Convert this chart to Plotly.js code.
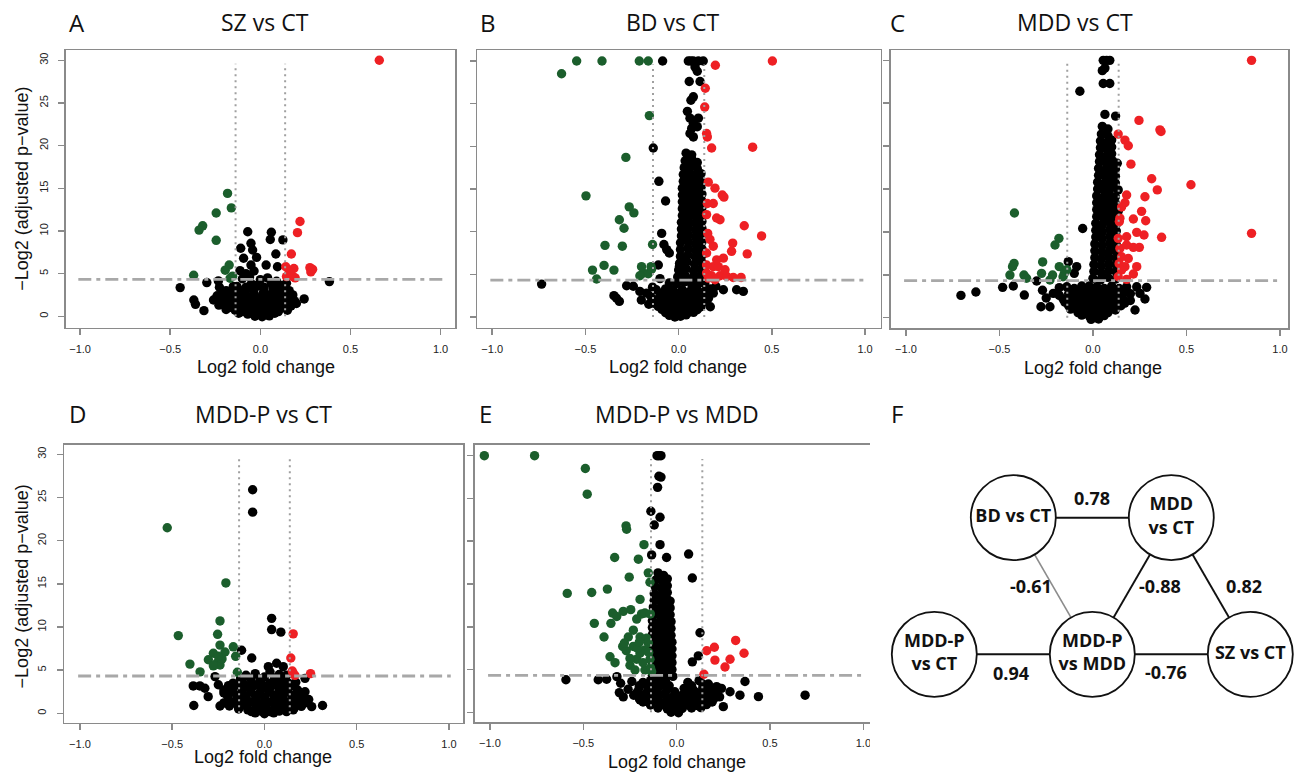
<!DOCTYPE html>
<html><head><meta charset="utf-8">
<script src="https://cdn.plot.ly/plotly-3.0.1.min.js"></script>
<style>html,body{margin:0;padding:0;background:#fff}#chart{width:1296px;height:773px}</style>
</head><body><div id="chart"></div>
<script>
// ---------------- DATA (log2 fold change, -log2 adjusted p-value) ----------------
const panelTitles = ['SZ vs CT', 'BD vs CT', 'MDD vs CT', 'MDD-P vs CT', 'MDD-P vs MDD'];
const panelLetters = ['A', 'B', 'C', 'D', 'E', 'F'];
const xTickVals = [-1, -0.5, 0, 0.5, 1];
const xTickText = ['\u22121.0', '\u22120.5', '0.0', '0.5', '1.0'];
const yTickVals = [0, 5, 10, 15, 20, 25, 30];
const pThreshold = 4.32;     // -log2(0.05)
const fcThreshold = 0.1375;  // log2(1.1)

// Panel A: SZ vs CT
const A_red = [[0.66,30],[0.22,11.1],[0.206,9.8],[0.172,7.3],[0.141,5.8],[0.186,5.6],[0.145,4.65],[0.18,4.65],[0.193,4.5],[0.275,5.7],[0.29,5.5],[0.28,5.2],[0.16,5.2]];
const A_green = [[-0.182,14.4],[-0.161,12.7],[-0.245,12.1],[-0.32,10.6],[-0.34,10.1],[-0.245,8.9],[-0.173,6.0],[-0.195,5.4],[-0.154,4.7],[-0.168,4.45],[-0.37,4.8]];
const A_black = [[-0.07,9.9],[-0.052,8.55],[-0.109,7.97],[-0.043,7.77],[-0.021,6.9],[-0.093,6.8],[-0.052,6.0],[-0.113,5.35],[0.061,9.84],[0.055,9.0],[0.125,8.95],[0.086,7.3],[0.032,6.0],[0.095,5.8],[0.145,3.87],[0.383,4.06],[-0.445,3.36],[-0.369,1.9],[-0.36,1.4],[-0.313,0.66],[-0.297,3.95],[-0.233,4.14],[-0.227,3.4],[-0.243,2.07],[0.243,2.03],
 [-0.08,5.0],[-0.06,4.6],[-0.1,4.4],[-0.035,5.3],[0.0,4.3],[0.04,4.5],[0.09,4.1],[0.12,3.6],[-0.15,3.5],[-0.19,3.0],[-0.12,3.1],[-0.05,3.8],[0.06,3.9],[-0.02,3.5],
 [-0.21,2.9],[-0.16,3.0],[-0.09,2.8],[-0.04,3.1],[0.02,2.9],[0.07,3.2],[0.11,2.8],[0.16,3.0],
 [-0.24,2.4],[-0.19,2.5],[-0.13,2.3],[-0.08,2.5],[-0.03,2.3],[0.03,2.5],[0.08,2.3],[0.13,2.4],[0.18,2.5],
 [-0.26,1.9],[-0.21,1.8],[-0.16,2.0],[-0.11,1.8],[-0.06,2.0],[-0.01,1.8],[0.04,2.0],[0.09,1.8],[0.14,2.0],[0.19,1.8],
 [-0.23,1.3],[-0.18,1.4],[-0.13,1.2],[-0.08,1.4],[-0.03,1.2],[0.02,1.4],[0.07,1.2],[0.12,1.4],[0.17,1.2],
 [-0.19,0.8],[-0.14,0.7],[-0.09,0.9],[-0.04,0.7],[0.01,0.9],[0.06,0.7],[0.11,0.9],[0.15,0.7],
 [-0.12,0.35],[-0.07,0.25],[-0.02,0.4],[0.03,0.2],[0.08,0.35],[-0.03,0.0],[0.01,-0.05],[0.05,0.05],
 [-0.235,2.15],[-0.185,2.2],[-0.135,2.15],[-0.085,2.2],[-0.035,2.15],[0.015,2.2],[0.065,2.15],[0.115,2.2],[0.165,2.15],
 [-0.205,1.6],[-0.155,1.65],[-0.105,1.6],[-0.055,1.65],[-0.005,1.6],[0.045,1.65],[0.095,1.6],[0.145,1.65],[0.2,1.5],
 [-0.165,1.05],[-0.115,1.0],[-0.065,1.05],[-0.015,1.0],[0.035,1.05],[0.085,1.0],[0.135,1.05],
 [-0.1,0.55],[-0.05,0.5],[0.0,0.55],[0.05,0.5],[0.1,0.55],
 [-0.185,2.7],[-0.135,2.65],[-0.085,2.7],[-0.035,2.65],[0.015,2.7],[0.065,2.65],[0.115,2.7],[0.14,3.3],
 [-0.13,3.5],[-0.08,3.4],[-0.03,3.6],[0.02,3.4],[0.07,3.6],[0.1,3.4]];

// Panel B: BD vs CT
const B_red = [[0.503,30],[0.197,29.5],[0.143,26.8],[0.14,24.6],[0.15,21.5],[0.154,21.1],[0.177,19.8],[0.397,19.9],[0.159,15.8],[0.195,15.1],[0.234,14.3],[0.243,14.05],[0.154,13.3],[0.186,13.3],[0.15,12.0],[0.204,11.6],[0.222,11.4],[0.352,10.7],[0.445,9.5],[0.156,9.8],[0.168,9.1],[0.186,8.3],[0.29,8.66],[0.284,7.7],[0.24,6.9],[0.368,7.4],[0.15,7.5],[0.15,6.1],[0.186,5.9],[0.213,5.9],[0.15,5.15],[0.177,4.84],[0.222,4.84],[0.258,4.76],[0.293,4.64],[0.335,4.64],[0.195,4.37],[0.159,4.56],[0.249,5.54],[0.204,6.7]];
const B_green = [[-0.547,30],[-0.411,30],[-0.211,30],[-0.163,30],[-0.628,28.5],[-0.157,23.6],[-0.283,18.7],[-0.497,14.2],[-0.265,12.9],[-0.24,12.2],[-0.318,11.4],[-0.293,10.4],[-0.395,8.4],[-0.302,8.3],[-0.14,8.5],[-0.462,5.5],[-0.4,6.05],[-0.347,5.5],[-0.44,4.45],[-0.199,5.9],[-0.148,5.9],[-0.19,5.15],[-0.163,5.07],[-0.208,4.84],[-0.145,5.6]];
const B_black = [[-0.086,30],[0.052,30],[0.065,30],[0.079,30],[0.106,30],[0.132,30],[0.088,29.3],[0.1,28.8],[0.057,27.6],[0.115,27.6],[0.079,25.8],[0.066,25.4],[0.047,24.1],[0.061,23.3],[0.106,23.3],[0.079,22.7],[0.1,22.3],[0.061,21.5],[0.079,21.1],[0.07,22.1],[-0.136,19.8],
 [0.04,19.2],[0.07,19.0],[0.035,18.3],[0.07,18.5],[0.1,18.1],[0.03,17.5],[0.065,17.7],[0.1,17.4],
 [0.025,16.7],[0.06,16.9],[0.095,16.6],[0.12,16.8],[0.025,15.9],[0.06,16.1],[0.095,15.8],[0.12,16.0],
 [0.02,15.1],[0.055,15.3],[0.09,15.0],[0.12,15.2],[0.02,14.3],[0.055,14.5],[0.09,14.2],[0.125,14.4],
 [0.02,13.5],[0.055,13.7],[0.09,13.4],[0.125,13.6],[0.02,12.7],[0.055,12.9],[0.09,12.6],[0.125,12.8],
 [0.02,11.9],[0.055,12.1],[0.09,11.8],[0.125,12.0],[0.015,11.1],[0.05,11.3],[0.09,11.0],[0.125,11.2],
 [0.015,10.3],[0.05,10.5],[0.09,10.2],[0.125,10.4],[0.015,9.5],[0.05,9.7],[0.09,9.4],[0.125,9.6],
 [0.01,8.7],[0.05,8.9],[0.09,8.6],[0.125,8.8],[0.01,7.9],[0.05,8.1],[0.09,7.8],[0.125,8.0],
 [0.01,7.1],[0.05,7.3],[0.09,7.0],[0.125,7.2],[0.005,6.3],[0.045,6.5],[0.085,6.2],[0.125,6.4],
 [0.0,5.5],[0.04,5.7],[0.08,5.4],[0.12,5.6],[-0.005,4.7],[0.035,4.9],[0.075,4.6],[0.115,4.8],
 [-0.01,3.9],[0.03,4.1],[0.07,3.8],[0.11,4.0],[0.14,3.9],
 [-0.735,3.86],[-0.347,2.5],[-0.318,1.83],[-0.333,2.2],[-0.279,3.67],[-0.243,3.6],[-0.208,3.0],[-0.172,2.8],[-0.106,15.9],[-0.07,13.6],[-0.091,9.8],[-0.079,8.5],[-0.064,7.9],[-0.05,7.5],[-0.109,6.1],[0.016,6.7],[0.004,5.9],[-0.14,3.5],[-0.1,4.5],[-0.05,4.0],[-0.16,1.5],[-0.2,2.0],
 [0.24,3.2],[0.311,3.2],[0.347,3.0],[0.186,2.8],[0.15,2.03],[0.2,3.6],[0.17,1.2],
 [-0.12,3.2],[-0.07,3.3],[-0.03,3.1],[0.02,3.2],[0.06,3.0],[0.1,3.2],[0.14,3.0],[0.17,3.3],
 [-0.15,2.4],[-0.1,2.5],[-0.06,2.3],[-0.02,2.5],[0.02,2.3],[0.06,2.5],[0.1,2.3],[0.14,2.5],
 [-0.13,1.6],[-0.09,1.7],[-0.05,1.5],[-0.01,1.7],[0.03,1.5],[0.07,1.7],[0.11,1.5],[0.13,1.7],
 [-0.09,0.9],[-0.05,0.8],[-0.01,1.0],[0.03,0.8],[0.07,1.0],[0.1,0.85],[-0.05,0.2],[-0.02,0.0],[0.01,0.1],[0.04,0.25],
 [-0.125,2.0],[-0.075,2.1],[-0.035,1.9],[0.005,2.1],[0.045,1.9],[0.085,2.1],[0.125,1.9],[0.16,2.2],
 [-0.11,1.25],[-0.07,1.3],[-0.03,1.2],[0.01,1.3],[0.05,1.2],[0.09,1.3],[0.12,1.2],
 [-0.07,0.5],[-0.03,0.5],[0.01,0.55],[0.05,0.5],[0.08,0.55],
 [-0.095,2.8],[-0.05,2.7],[-0.01,2.8],[0.04,2.7],[0.08,2.8],[0.12,2.7],[0.155,2.7]];

// Panel C: MDD vs CT
const C_red = [[0.848,30],[0.848,9.83],[0.524,15.5],[0.246,23.0],[0.358,21.9],[0.364,21.7],[0.135,21.4],[0.171,20.7],[0.189,20.05],[0.203,17.9],[0.314,16.2],[0.344,14.9],[0.18,14.3],[0.171,13.4],[0.278,14.1],[0.26,12.4],[0.153,12.9],[0.216,11.5],[0.282,11.3],[0.144,11.6],[0.141,11.2],[0.234,9.95],[0.273,9.64],[0.367,9.37],[0.135,9.25],[0.18,9.44],[0.216,8.2],[0.248,8.2],[0.144,8.08],[0.189,6.9],[0.153,7.1],[0.234,5.95],[0.171,5.95],[0.216,5.1],[0.135,4.78],[0.18,4.47],[0.153,5.56],[0.14,6.3],[0.18,8.47]];
const C_green = [[-0.42,12.2],[-0.182,9.25],[-0.203,8.47],[-0.422,6.33],[-0.43,5.95],[-0.444,4.97],[-0.369,4.97],[-0.355,4.6],[-0.269,6.5],[-0.275,5.17],[-0.216,4.97],[-0.23,4.4],[-0.18,5.95],[-0.153,5.17],[-0.14,5.6],[-0.16,4.78]];
const C_black = [[0.055,30],[0.073,30],[0.09,30],[0.05,28.8],[0.064,29.1],[0.055,27.3],[0.09,27.3],[-0.07,26.4],[0.064,23.7],[0.121,23.5],[-0.055,10.4],[0.135,14.9],[0.135,12.4],[0.13,18.0],
 [0.05,22.3],[0.08,22.0],[0.045,21.4],[0.08,21.2],[0.04,20.6],[0.075,20.4],[0.1,20.7],[0.04,19.8],[0.075,19.6],[0.1,19.9],
 [0.035,19.0],[0.07,18.8],[0.1,19.1],[0.035,18.2],[0.07,18.0],[0.105,18.3],
 [0.03,17.4],[0.065,17.2],[0.1,17.5],[0.12,17.3],[0.03,16.6],[0.065,16.4],[0.1,16.7],[0.12,16.5],
 [0.025,15.8],[0.06,15.6],[0.095,15.9],[0.12,15.7],[0.025,15.0],[0.06,14.8],[0.095,15.1],
 [0.02,14.2],[0.055,14.0],[0.09,14.3],[0.12,14.1],[0.02,13.4],[0.055,13.2],[0.09,13.5],[0.12,13.3],
 [0.02,12.6],[0.055,12.4],[0.09,12.7],[0.12,12.5],[0.02,11.8],[0.055,11.6],[0.09,11.9],[0.125,11.7],
 [0.015,11.0],[0.05,10.8],[0.09,11.1],[0.125,10.9],[0.015,10.2],[0.05,10.0],[0.09,10.3],[0.125,10.1],
 [0.015,9.4],[0.05,9.2],[0.09,9.5],[0.125,9.3],[0.01,8.6],[0.05,8.4],[0.09,8.7],[0.125,8.5],
 [0.01,7.8],[0.05,7.6],[0.09,7.9],[0.125,7.7],[0.01,7.0],[0.045,6.8],[0.085,7.1],[0.125,6.9],
 [0.005,6.2],[0.045,6.0],[0.085,6.3],[0.125,6.1],[0.005,5.4],[0.045,5.2],[0.085,5.5],[0.125,5.3],
 [0.0,4.6],[0.04,4.4],[0.08,4.7],[0.12,4.5],
 [-0.706,2.6],[-0.626,3.0],[-0.483,3.54],[-0.367,2.64],[-0.426,3.7],[-0.301,4.28],[-0.278,1.28],[-0.23,1.28],[-0.212,2.84],[-0.132,6.53],[-0.087,5.95],[-0.1,5.17],[-0.02,3.7],[-0.25,2.3],[-0.18,3.5],[-0.15,2.0],[-0.27,3.2],
 [0.287,3.54],[0.278,2.18],[0.225,0.9],[0.251,2.84],[0.234,3.6],[0.18,3.0],[0.2,2.0],
 [-0.14,3.6],[-0.1,3.4],[-0.06,3.7],[-0.02,3.3],[0.02,3.6],[0.06,3.4],[0.1,3.7],[0.14,3.4],[0.18,3.6],
 [-0.18,2.6],[-0.13,2.8],[-0.09,2.6],[-0.05,2.8],[-0.01,2.6],[0.03,2.8],[0.07,2.6],[0.11,2.8],[0.15,2.6],[0.2,2.8],
 [-0.15,1.8],[-0.11,1.9],[-0.07,1.7],[-0.03,1.9],[0.01,1.7],[0.05,1.9],[0.09,1.7],[0.13,1.9],[0.17,1.7],
 [-0.12,1.0],[-0.08,1.1],[-0.04,0.9],[0.0,1.1],[0.04,0.9],[0.08,1.1],[0.12,0.9],
 [-0.06,0.3],[-0.02,0.2],[0.02,0.35],[0.06,0.25],[-0.01,-0.2],[0.03,-0.15],
 [-0.16,2.2],[-0.12,2.3],[-0.08,2.2],[-0.04,2.3],[0.0,2.2],[0.04,2.3],[0.08,2.2],[0.12,2.3],[0.16,2.2],
 [-0.13,1.4],[-0.09,1.5],[-0.05,1.4],[-0.01,1.5],[0.03,1.4],[0.07,1.5],[0.11,1.4],[0.15,1.4],
 [-0.08,0.6],[-0.04,0.65],[0.0,0.6],[0.04,0.65],[0.08,0.6],
 [-0.12,3.1],[-0.08,3.0],[-0.04,3.1],[0.0,3.0],[0.04,3.1],[0.08,3.0],[0.12,3.1],[0.16,3.0]];

// Panel D: MDD-P vs CT
const D_red = [[0.156,9.2],[0.143,6.4],[0.151,4.9],[0.165,4.4],[0.25,4.6],[0.156,4.6]];
const D_green = [[-0.527,21.5],[-0.209,15.1],[-0.241,10.7],[-0.467,9.0],[-0.254,9.15],[-0.241,7.9],[-0.169,7.7],[-0.214,7.1],[-0.277,6.95],[-0.304,6.2],[-0.404,5.7],[-0.259,5.8],[-0.241,5.6],[-0.277,5.5],[-0.156,6.6],[-0.349,4.8],[-0.147,4.75],[-0.23,6.3],[-0.25,6.6]];
const D_black = [[-0.064,25.9],[-0.064,23.3],[0.039,11.0],[0.039,9.7],[0.089,9.4],[-0.124,7.3],[-0.069,6.4],[0.021,5.4],[0.066,5.8],[0.102,5.4],[0.22,4.05],[-0.386,3.17],[-0.35,3.17],[-0.323,2.9],[-0.305,1.93],[-0.383,0.9],[0.315,0.9],[-0.25,3.3],[-0.268,4.25],[-0.241,0.85],[0.156,0.4],[0.256,0.77],
 [-0.1,4.4],[-0.05,4.6],[0.0,4.2],[0.03,4.8],[0.08,4.5],[0.12,4.4],
 [-0.17,3.5],[-0.12,3.7],[-0.07,3.5],[-0.02,3.7],[0.03,3.5],[0.08,3.7],[0.13,3.5],[0.17,3.6],
 [-0.22,2.7],[-0.17,2.9],[-0.12,2.7],[-0.07,2.9],[-0.02,2.7],[0.03,2.9],[0.08,2.7],[0.13,2.9],[0.18,2.7],[0.22,2.5],
 [-0.2,2.0],[-0.15,2.1],[-0.1,1.9],[-0.05,2.1],[0.0,1.9],[0.05,2.1],[0.1,1.9],[0.15,2.1],[0.2,1.9],[0.24,1.6],
 [-0.22,1.2],[-0.17,1.3],[-0.12,1.1],[-0.07,1.3],[-0.02,1.1],[0.03,1.3],[0.08,1.1],[0.13,1.3],[0.18,1.1],[0.22,1.2],
 [-0.14,0.5],[-0.09,0.4],[-0.04,0.6],[0.01,0.4],[0.06,0.6],[0.11,0.4],[0.16,0.55],[-0.05,0.05],[0.0,-0.05],[0.05,0.05],
 [-0.195,3.2],[-0.145,3.3],[-0.095,3.1],[-0.045,3.3],[0.005,3.1],[0.055,3.3],[0.105,3.1],[0.155,3.2],
 [-0.22,2.35],[-0.175,2.45],[-0.125,2.3],[-0.075,2.45],[-0.025,2.3],[0.025,2.45],[0.075,2.3],[0.125,2.45],[0.175,2.3],
 [-0.195,1.6],[-0.145,1.7],[-0.095,1.5],[-0.045,1.7],[0.005,1.5],[0.055,1.7],[0.105,1.5],[0.155,1.7],[0.205,1.5],
 [-0.19,0.85],[-0.145,0.9],[-0.095,0.8],[-0.045,0.9],[0.005,0.8],[0.055,0.9],[0.105,0.8],[0.155,0.9],[0.2,0.8],
 [-0.07,0.2],[-0.02,0.25],[0.03,0.2],[0.08,0.25],[0.12,0.2],
 [-0.075,4.0],[-0.025,4.0],[0.055,4.1],[0.1,3.95],[-0.13,4.0]];

// Panel E: MDD-P vs MDD
const E_red = [[0.316,8.4],[0.361,6.9],[0.202,7.6],[0.161,7.2],[0.205,6.1],[0.286,6.2],[0.259,5.3],[0.146,4.45]];
const E_green = [[-1.03,30],[-0.761,30],[-0.489,28.5],[-0.479,25.5],[-0.271,21.8],[-0.268,21.4],[-0.175,19.6],[-0.332,18.1],[-0.205,17.9],[-0.152,16.3],[-0.254,15.8],[-0.143,15.2],[-0.586,13.9],[-0.455,14.0],[-0.371,14.4],[-0.196,13.2],[-0.343,11.6],[-0.286,11.8],[-0.246,12.0],[-0.321,11.2],[-0.441,10.4],[-0.352,10.4],[-0.188,11.5],[-0.214,10.9],[-0.17,11.6],[-0.141,11.5],[-0.389,8.8],[-0.259,8.8],[-0.196,8.8],[-0.161,8.65],[-0.289,7.7],[-0.232,7.7],[-0.17,7.3],[-0.357,6.5],[-0.33,5.8],[-0.25,5.5],[-0.214,6.2],[-0.143,6.2],[-0.223,4.95],[-0.17,4.95],[-0.134,4.75],[-0.196,6.9],[-0.152,8.1],[-0.232,9.6],[-0.27,7.2],[-0.21,7.5],[-0.15,7.0],[-0.25,6.3],[-0.18,5.8],[-0.14,5.2],[-0.28,8.1],[-0.2,8.2]];
const E_black = [[-0.095,30],[-0.084,30],[-0.105,30],[-0.084,27.5],[-0.095,27.6],[-0.102,26.3],[-0.138,23.5],[-0.089,22.8],[-0.12,21.9],[-0.089,19.6],[-0.134,18.4],[-0.054,18.1],[0.064,18.5],[0.084,15.7],[0.125,9.3],[0.116,6.6],[0.084,5.9],
 [-0.593,3.8],[-0.42,3.8],[-0.375,3.86],[-0.32,4.17],[-0.307,2.3],[-0.286,1.8],[-0.196,1.44],[0.366,3.6],[0.438,1.83],[0.688,2.0],[0.25,0.66],[0.339,2.0],[0.286,2.4],[0.214,3.0],
 [-0.1,16.3],[-0.07,16.0],[-0.11,15.5],[-0.075,15.3],[-0.05,15.6],[-0.115,14.7],[-0.08,14.5],[-0.05,14.8],
 [-0.12,13.9],[-0.085,13.7],[-0.05,14.0],[-0.12,13.1],[-0.085,12.9],[-0.05,13.2],[-0.035,13.0],
 [-0.125,12.3],[-0.09,12.1],[-0.055,12.4],[-0.035,12.2],[-0.125,11.5],[-0.09,11.3],[-0.055,11.6],[-0.035,11.4],
 [-0.13,10.7],[-0.095,10.5],[-0.06,10.8],[-0.03,10.6],[-0.13,9.9],[-0.095,9.7],[-0.06,10.0],[-0.03,9.8],
 [-0.13,9.1],[-0.095,8.9],[-0.06,9.2],[-0.03,9.0],[-0.13,8.3],[-0.095,8.1],[-0.06,8.4],[-0.025,8.2],
 [-0.13,7.5],[-0.095,7.3],[-0.06,7.6],[-0.025,7.4],[-0.13,6.7],[-0.095,6.5],[-0.06,6.8],[-0.025,6.6],
 [-0.13,5.9],[-0.095,5.7],[-0.06,6.0],[-0.025,5.8],[-0.13,5.1],[-0.095,4.9],[-0.06,5.2],[-0.025,5.0],
 [-0.13,4.3],[-0.095,4.1],[-0.06,4.4],[-0.02,4.2],
 [-0.3,3.4],[-0.24,3.6],[-0.18,3.5],[-0.14,3.7],[-0.1,3.5],[-0.06,3.7],[0.06,3.5],[0.12,3.7],[0.17,3.3],
 [-0.26,2.7],[-0.2,2.9],[-0.15,2.7],[-0.1,2.9],[-0.05,2.7],[0.04,2.8],[0.09,2.6],[0.14,2.9],[0.19,2.6],[0.24,2.8],
 [-0.23,2.0],[-0.17,2.1],[-0.12,1.9],[-0.07,2.1],[-0.02,1.8],[0.03,2.0],[0.08,2.1],[0.13,1.9],[0.18,2.1],[0.23,1.8],
 [-0.18,1.2],[-0.13,1.3],[-0.08,1.1],[-0.04,1.3],[0.0,1.0],[0.04,1.2],[0.09,1.3],[0.14,1.1],[0.19,1.2],
 [-0.1,0.5],[-0.05,0.4],[-0.01,0.3],[0.03,0.45],[0.08,0.5],[0.13,0.55],[-0.03,0.0],[0.01,-0.05],
 [-0.21,2.4],[-0.16,2.3],[-0.11,2.45],[-0.06,2.3],[-0.01,2.4],[0.06,2.4],[0.11,2.3],[0.16,2.45],[0.21,2.3],
 [-0.2,1.6],[-0.15,1.65],[-0.1,1.5],[-0.05,1.6],[0.0,1.5],[0.05,1.6],[0.1,1.65],[0.15,1.5],[0.2,1.6],
 [-0.14,0.85],[-0.09,0.8],[-0.04,0.85],[0.01,0.75],[0.06,0.85],[0.11,0.8],[0.16,0.9],
 [-0.2,3.1],[-0.16,3.2],[-0.12,3.1],[-0.08,3.2],[-0.04,3.1],[0.08,3.1],[0.14,3.3]];

// Panel F: correlation network
const nodeNames = ['BD vs CT', 'MDD<br>vs CT', 'MDD-P<br>vs CT', 'MDD-P<br>vs MDD', 'SZ vs CT'];
const nodeCol = [0.5, 1.5, 0, 1, 2];
const nodeRow = [1, 1, 0, 0, 0];
const edgeFrom = [0, 0, 1, 1, 2, 3];
const edgeTo   = [1, 3, 3, 4, 3, 4];
const edgeR    = [0.78, -0.61, -0.88, 0.82, 0.94, -0.76];

// ---------------- DRAWING ----------------
const W = 1296, H = 773;
const RED = '#ee2024', GREEN = '#1b5e2c', BLACK = '#000000';
const series = [[A_black, A_green, A_red], [B_black, B_green, B_red], [C_black, C_green, C_red], [D_black, D_green, D_red], [E_black, E_green, E_red]];
const boxes = [
  {x0: 65.7, x1: 455, y0: 50.3, y1: 327.7, xr: [-1.08, 1.08], yr: [-1.34, 31.17], yl: true},
  {x0: 477.3, x1: 880.7, y0: 50.3, y1: 327.7, xr: [-1.08, 1.084], yr: [-1.25, 31.25], yl: false},
  {x0: 891, x1: 1288, y0: 50.3, y1: 328, xr: [-1.08, 1.043], yr: [-1.2, 31.17], yl: false},
  {x0: 64.3, x1: 463.3, y0: 445, y1: 722.7, xr: [-1.085, 1.078], yr: [-1.09, 31.08], yl: true},
  {x0: 475, x1: 878.3, y0: 445, y1: 722.3, xr: [-1.08, 1.08], yr: [-1.17, 31.25], yl: false}
];
const titlePos = [[264.7, 22], [672.3, 22], [1075, 22], [263.3, 413.5], [677, 413.5]];
const letterPos = [[66.7, 22], [478.3, 22], [888.3, 22], [66.7, 413.5], [477.3, 413.5], [889.3, 413.5]];
const xTitlePos = [[266, 366.7], [678.3, 366.7], [1092.7, 368.3], [263.3, 756.7], [676.7, 761.7]];
const yTitlePos = [[21.7, 189, 0], [21.7, 586.7, 3]];

const px = v => v / W, py = v => 1 - v / H;
const traces = [], shapes = [], annotations = [];
const layout = {width: W, height: H, margin: {l: 0, r: 0, t: 0, b: 0}, showlegend: false,
  paper_bgcolor: '#fff', plot_bgcolor: '#fff', font: {family: 'Liberation Sans, Arial, sans-serif', color: '#222'}};

boxes.forEach((b, i) => {
  const n = i + 1, xa = 'xaxis' + (n === 1 ? '' : n), ya = 'yaxis' + (n === 1 ? '' : n);
  const xr = 'x' + (n === 1 ? '' : n), yr = 'y' + (n === 1 ? '' : n);
  const common = {showline: true, mirror: true, linecolor: '#8a8a8a', linewidth: 1.6, showgrid: false, zeroline: false,
    ticks: 'outside', ticklen: 6, tickwidth: 1.5, tickcolor: '#8a8a8a', fixedrange: true,
    tickfont: {family: 'Liberation Sans, Arial, sans-serif', size: 11, color: '#222'}};
  layout[xa] = Object.assign({}, common, {domain: [px(b.x0), px(b.x1)], range: b.xr, anchor: yr,
    tickmode: 'array', tickvals: xTickVals, ticktext: xTickText, ticklabelstandoff: 4});
  layout[ya] = Object.assign({}, common, {domain: [py(b.y1), py(b.y0)], range: b.yr, anchor: xr,
    tickmode: 'array', tickvals: yTickVals, ticktext: yTickVals.map(String), showticklabels: b.yl,
    tickangle: -90, ticklabelstandoff: 6});
  const cols = [BLACK, GREEN, RED];
  series[i].forEach((pts, k) => {
    traces.push({type: 'scatter', mode: 'markers', xaxis: xr, yaxis: yr, hoverinfo: 'skip',
      x: pts.map(p => p[0]), y: pts.map(p => p[1]),
      marker: {size: 9.4, color: cols[k], line: {width: 0}}});
  });
  shapes.push({type: 'line', xref: xr, yref: yr, x0: -1.01, x1: 1.01, y0: pThreshold, y1: pThreshold,
    line: {color: '#a8a8a8', width: 2.8, dash: '13px,5px,4px,5px'}, layer: 'above'});
  [-fcThreshold, fcThreshold].forEach(v => shapes.push({type: 'line', xref: xr, yref: yr, x0: v, x1: v, y0: 0, y1: 29.6,
    line: {color: '#a0a0a0', width: 2, dash: '2px,4px'}, layer: 'above'}));
  annotations.push({xref: 'paper', yref: 'paper', x: px(titlePos[i][0]), y: py(titlePos[i][1]), text: panelTitles[i],
    showarrow: false, xanchor: 'center', yanchor: 'middle', font: {family: 'Open Sans, sans-serif', size: 23, color: '#111'}});
  annotations.push({xref: 'paper', yref: 'paper', x: px(xTitlePos[i][0]), y: py(xTitlePos[i][1]), text: 'Log2 fold change',
    showarrow: false, xanchor: 'center', yanchor: 'middle', font: {family: 'Liberation Sans, Arial, sans-serif', size: 18, color: '#111'}});
});
panelLetters.forEach((L, i) => annotations.push({xref: 'paper', yref: 'paper', x: px(letterPos[i][0]), y: py(letterPos[i][1]),
  text: L, showarrow: false, xanchor: 'left', yanchor: 'middle', font: {family: 'Open Sans, sans-serif', size: 24, color: '#111'}}));
yTitlePos.forEach(p => annotations.push({xref: 'paper', yref: 'paper', x: px(p[0]), y: py(p[1]), text: '\u2212Log2 (adjusted p\u2212value)',
  textangle: -90, showarrow: false, xanchor: 'center', yanchor: 'middle', font: {family: 'Liberation Sans, Arial, sans-serif', size: 18, color: '#111'}}));

// Panel F axes (one grid unit = 158 px horizontally, 136.6 px vertically)
const fx0 = 934.3, fux = 158, fy0 = 654.3, fuy = 136.6;
layout.xaxis6 = {domain: [px(870), 1], range: [(870 - fx0) / fux, (W - fx0) / fux], visible: false, fixedrange: true, anchor: 'y6'};
layout.yaxis6 = {domain: [0, py(390)], range: [(fy0 - H) / fuy, (fy0 - 390) / fuy], visible: false, fixedrange: true, anchor: 'x6'};
const labelShift = [[0, 20], [-22, 0], [28, 0], [33, 0], [-2, -19], [-5, -18]];
edgeFrom.forEach((a, k) => {
  const b = edgeTo[k];
  traces.push({type: 'scatter', mode: 'lines', xaxis: 'x6', yaxis: 'y6', hoverinfo: 'skip',
    x: [nodeCol[a], nodeCol[b]], y: [nodeRow[a], nodeRow[b]],
    line: {color: k === 1 ? '#8c8c8c' : '#111', width: k === 1 ? 1.6 : 1.9}});
  annotations.push({xref: 'x6', yref: 'y6', x: (nodeCol[a] + nodeCol[b]) / 2, y: (nodeRow[a] + nodeRow[b]) / 2,
    xshift: labelShift[k][0], yshift: labelShift[k][1], text: edgeR[k].toFixed(2), showarrow: false,
    font: {family: 'Open Sans, sans-serif', size: 18, weight: 700, color: '#111'}});
});
traces.push({type: 'scatter', mode: 'markers+text', xaxis: 'x6', yaxis: 'y6', hoverinfo: 'skip',
  x: nodeCol, y: nodeRow, text: nodeNames, textposition: 'middle center',
  textfont: {family: 'Open Sans, sans-serif', size: 18, weight: 700, color: '#111'},
  marker: {size: 85, color: '#fff', line: {color: '#111', width: 1.8}}});

layout.shapes = shapes;
layout.annotations = annotations;
Plotly.newPlot('chart', traces, layout, {displayModeBar: false, staticPlot: true});
</script></body></html>
